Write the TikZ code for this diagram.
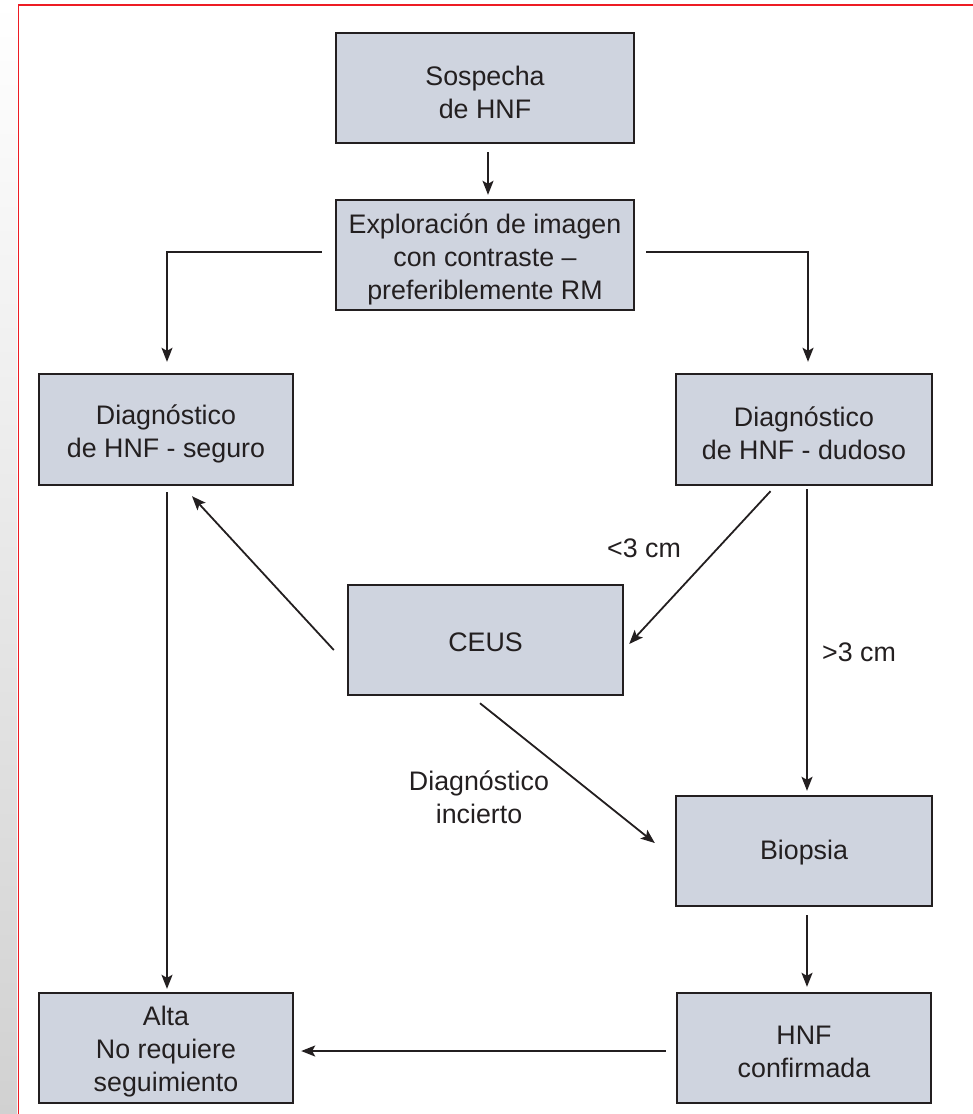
\documentclass[tikz,border=0pt]{standalone}
\usepackage{fontspec}
\setmainfont{Liberation Sans}
\usetikzlibrary{arrows.meta}
\definecolor{boxfill}{RGB}{207,212,223}
\definecolor{ink}{RGB}{35,31,32}
\definecolor{frame}{RGB}{237,28,36}
\begin{document}
\begin{tikzpicture}[x=1pt,y=-1pt,
  every node/.style={font=\fontsize{26.8}{33}\selectfont, text=ink},
  box/.style={draw=ink, line width=2.4pt, fill=boxfill, inner sep=0pt},
  boxtext/.style={align=center, inner sep=0pt, yshift=-4pt},
  boxword/.style={inner sep=0pt, yshift=-2pt},
  link/.style={draw=ink, line width=1.8pt, -{Stealth[length=14pt,width=11pt,inset=3pt]}},
  lbl/.style={align=center}]
\useasboundingbox (0,0) rectangle (973,1114);
% page edge shading and red frame
\shade[top color=white, bottom color=black!18] (0,0) rectangle (17,1114);
\draw[frame, line width=1.6pt] (973,5) -- (18.5,5) -- (18.5,1114);

% boxes
\node[box, minimum width=298, minimum height=110,
      label={[boxtext]center:{Sospecha\\de HNF}}] (sos) at (485,88) {};
\node[box, minimum width=298, minimum height=110,
      label={[boxtext]center:{Exploración de imagen\\con contraste –\\preferiblemente RM}}] (exp) at (485,255) {};
\node[box, minimum width=254, minimum height=111,
      label={[boxtext]center:{Diagnóstico\\de HNF - seguro}}] (seg) at (166,429.5) {};
\node[box, minimum width=256, minimum height=111,
      label={[boxtext]center:{Diagnóstico\\de HNF - dudoso}}] (dud) at (804,429.5) {};
\node[box, minimum width=275, minimum height=110,
      label={[boxword]center:CEUS}] (ceus) at (485.5,640) {};
\node[box, minimum width=256, minimum height=110,
      label={[boxword]center:Biopsia}] (bio) at (804,851) {};
\node[box, minimum width=254, minimum height=110,
      label={[boxtext]center:{Alta\\No requiere\\seguimiento}}] (alta) at (166,1048) {};
\node[box, minimum width=254, minimum height=110,
      label={[boxtext]center:{HNF\\confirmada}}] (hnf) at (804,1048) {};

% connectors
\draw[link] ([xshift=3pt,yshift=-8pt]sos.south) -- ([xshift=3pt,yshift=4pt]exp.north);
\draw[link] ([xshift=-13pt,yshift=3pt]exp.west) -| ([xshift=1pt,yshift=11pt]seg.north);
\draw[link] ([xshift=11pt,yshift=3pt]exp.east) -| ([xshift=4pt,yshift=11pt]dud.north);
\draw[link] ([xshift=1pt,yshift=-6pt]seg.south) -- ([xshift=1pt,yshift=3pt]alta.north);
\draw[link] ([xshift=3pt,yshift=-3pt]dud.south) -- ([xshift=3pt,yshift=4pt]bio.north);
\draw[link] ([xshift=3pt,yshift=-8pt]bio.south) -- ([xshift=3pt,yshift=5pt]hnf.north);
\draw[link] ([xshift=-10pt,yshift=-3pt]hnf.west) -- ([xshift=7pt,yshift=-3pt]alta.east);
\draw[link] ([xshift=-33.5pt,yshift=-5pt]dud.south) -- ([xshift=5pt,yshift=-4pt]ceus.east);
\draw[link] ([xshift=-13pt,yshift=-10pt]ceus.west) -- ([xshift=26pt,yshift=-10pt]seg.south);
\draw[link] ([xshift=-5.5pt,yshift=-7pt]ceus.south) -- ([xshift=-20pt,yshift=8pt]bio.west);

% edge labels
\node (lt) at (644,548) {<3 cm};
\node (gt) at (859,652) {>3 cm};
\node[lbl] (inc) at (479,797) {Diagnóstico\\incierto};
\end{tikzpicture}
\end{document}
